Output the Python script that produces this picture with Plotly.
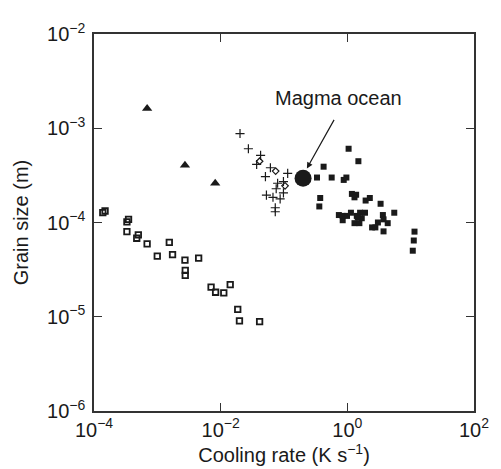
import math
import plotly.graph_objects as go

# Open squares
sq_open_x = [1.495e-4, 1.377e-4, 3.51e-4, 3.31e-4, 3.31e-4, 5.01e-4, 4.73e-4, 6.9e-4, 1.545e-3, 9.98e-4,
             1.738e-3, 2.73e-3, 4.49e-3, 2.76e-3, 2.76e-3, 7.06e-3, 8.32e-3, 1.12e-2, 1.415e-2, 1.86e-2,
             1.98e-2, 4.12e-2]
sq_open_y = [1.324e-4, 1.271e-4, 1.08e-4, 1.016e-4, 8.0e-5, 7.38e-5, 6.81e-5, 5.94e-5, 6.14e-5, 4.39e-5,
             4.56e-5, 3.98e-5, 4.18e-5, 3.10e-5, 2.75e-5, 2.06e-5, 1.82e-5, 1.79e-5, 2.19e-5, 1.20e-5,
             9.05e-6, 8.89e-6]

# Filled triangles
tri_x = [6.9e-4, 2.73e-3, 8.2e-3]
tri_y = [1.62e-3, 4.06e-4, 2.61e-4]

# Plus markers
plus_x = [2.02e-2, 2.74e-2, 4.27e-2, 3.70e-2, 6.10e-2, 0.1143, 5.09e-2, 7.93e-2, 9.8e-2, 7.53e-2,
          5.28e-2, 6.70e-2, 8.69e-2, 9.8e-2, 7.28e-2, 7.28e-2]
plus_y = [8.79e-4, 6.06e-4, 5.16e-4, 4.13e-4, 3.81e-4, 3.32e-4, 3.07e-4, 2.61e-4, 2.72e-4, 2.28e-4,
          1.95e-4, 1.85e-4, 1.78e-4, 2.06e-4, 1.434e-4, 1.30e-4]

# Open diamonds
dia_x = [4.12e-2, 7.38e-2, 0.1038]
dia_y = [4.47e-4, 3.51e-4, 2.45e-4]

# Filled squares
sq_fill_x = [1.047, 1.495, 0.422, 0.332, 0.566, 0.877, 0.966, 1.18, 1.377, 1.297,
             1.945, 2.265, 3.35, 0.373, 0.361, 0.735, 0.845, 0.845, 0.989, 1.14,
             1.41, 1.59, 1.90, 1.69, 1.297, 1.55, 1.46, 2.46, 2.77, 3.04,
             3.64, 3.73, 4.34, 3.73, 5.51, 11.5, 11.2, 10.8]
sq_fill_y = [6.06e-4, 4.47e-4, 3.91e-4, 3.0e-4, 3.0e-4, 2.83e-4, 3.0e-4, 2.01e-4, 1.97e-4, 1.85e-4,
             1.71e-4, 1.82e-4, 1.58e-4, 1.82e-4, 1.48e-4, 1.20e-4, 1.175e-4, 1.057e-4, 1.175e-4, 1.27e-4,
             1.175e-4, 1.27e-4, 1.27e-4, 1.11e-4, 9.84e-5, 9.84e-5, 1.13e-4, 8.87e-5, 8.87e-5, 1.0e-4,
             1.20e-4, 1.08e-4, 9.84e-5, 8.05e-5, 1.27e-4, 8.0e-5, 6.44e-5, 5.02e-5]

# Magma ocean
magma_x = [0.2]
magma_y = [2.95e-4]
arrow_tip = (0.23, 3.75e-4)

x_tickvals = [1e-4, 1e-2, 1e0, 1e2]
x_ticktext = ["10<sup>−4</sup>", "10<sup>−2</sup>", "10<sup>0</sup>", "10<sup>2</sup>"]
y_tickvals = [1e-6, 1e-5, 1e-4, 1e-3, 1e-2]
y_ticktext = ["10<sup>−6</sup>", "10<sup>−5</sup>", "10<sup>−4</sup>", "10<sup>−3</sup>", "10<sup>−2</sup>"]

ink = "#1a1a1a"
FONT = "Liberation Sans, Arial, Helvetica, sans-serif"

fig = go.Figure()
fig.add_trace(go.Scatter(x=sq_open_x, y=sq_open_y, mode="markers",
                         marker=dict(symbol="square-open", size=5.5, color=ink, line=dict(width=1.8, color=ink))))
fig.add_trace(go.Scatter(x=tri_x, y=tri_y, mode="markers",
                         marker=dict(symbol="triangle-up", size=9, color=ink, line=dict(width=0))))
fig.add_trace(go.Scatter(x=plus_x, y=plus_y, mode="markers",
                         marker=dict(symbol="cross-thin-open", size=6.5, color=ink, line=dict(width=1.2, color=ink))))
fig.add_trace(go.Scatter(x=dia_x, y=dia_y, mode="markers",
                         marker=dict(symbol="diamond-open", size=5, color=ink, line=dict(width=1.2, color=ink))))
fig.add_trace(go.Scatter(x=sq_fill_x, y=sq_fill_y, mode="markers",
                         marker=dict(symbol="square", size=6, color=ink, line=dict(width=0))))
fig.add_trace(go.Scatter(x=magma_x, y=magma_y, mode="markers",
                         marker=dict(symbol="circle", size=17, color=ink, line=dict(width=0))))

tx, ty = math.log10(arrow_tip[0]), math.log10(arrow_tip[1])
fig.add_annotation(x=tx, y=ty, xref="x", yref="y", text="", showarrow=True,
                   ax=28, ay=-50, arrowhead=2, arrowsize=1, arrowwidth=1.2, arrowcolor=ink)
fig.add_annotation(x=tx, y=ty, xref="x", yref="y", text="Magma ocean", showarrow=False,
                   xshift=32, yshift=70, font=dict(size=20, color=ink, family=FONT))

axis_common = dict(type="log", showgrid=False, zeroline=False, showline=True, linecolor="#333",
                   linewidth=1.5, mirror="ticks", ticks="inside", ticklen=8, tickwidth=1.2,
                   tickcolor="#333", tickfont=dict(size=20, color=ink, family=FONT))

fig.update_xaxes(range=[-4, 2], tickvals=x_tickvals, ticktext=x_ticktext,
                 title=dict(text="Cooling rate (K s<sup>−1</sup>)", font=dict(size=20, color=ink, family=FONT), standoff=2),
                 **axis_common)
fig.update_yaxes(range=[-6, -2], tickvals=y_tickvals, ticktext=y_ticktext, ticklabelstandoff=3,
                 title=dict(text="Grain size (m)", font=dict(size=20, color=ink, family=FONT), standoff=13),
                 **axis_common)

# page body adds an 8 px margin; figure is sized/offset to compensate
fig.update_layout(width=493, height=461, margin=dict(l=85, r=20, t=15, b=54),
                  paper_bgcolor="white", plot_bgcolor="white", showlegend=False,
                  font=dict(family=FONT, color=ink))

fig.write_html("out.html")
